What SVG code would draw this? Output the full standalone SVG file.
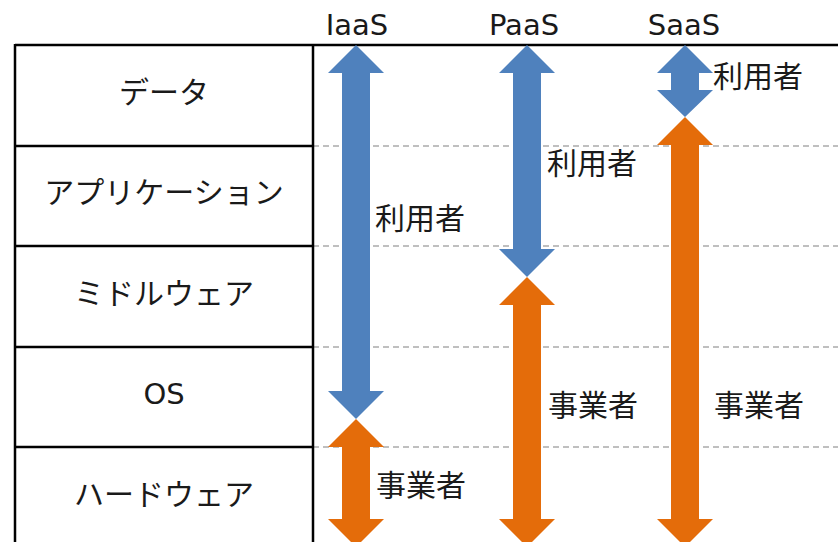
<svg xmlns="http://www.w3.org/2000/svg" width="838" height="542" viewBox="0 0 838 542">
<style>
.jp{font-family:"Noto Sans CJK JP","DejaVu Sans",sans-serif;font-size:30px;fill:#1a1a1a}
.lat{font-family:"DejaVu Sans","Noto Sans",sans-serif;font-size:29px;fill:#1a1a1a}
.row{stroke:#000;stroke-width:2.5;fill:none}
.dash{stroke:#BFBFBF;stroke-width:2;stroke-dasharray:6 4;fill:none}
.blue{fill:#4F81BD}
.orange{fill:#E46C0A}
</style>
<rect width="838" height="542" fill="#fff"/>
<g id="grid">
<line class="dash" x1="313" y1="146" x2="838" y2="146"/>
<line class="dash" x1="313" y1="246" x2="838" y2="246"/>
<line class="dash" x1="313" y1="347" x2="838" y2="347"/>
<line class="dash" x1="313" y1="447" x2="838" y2="447"/>
<line class="row" x1="15" y1="45" x2="838" y2="45"/>
<line class="row" x1="15" y1="146" x2="313" y2="146"/>
<line class="row" x1="15" y1="246" x2="313" y2="246"/>
<line class="row" x1="15" y1="347" x2="313" y2="347"/>
<line class="row" x1="15" y1="447" x2="313" y2="447"/>
<line class="row" x1="15" y1="44" x2="15" y2="542"/>
<line class="row" x1="313" y1="44" x2="313" y2="542"/>
</g>
<g id="headers">
<text class="lat" x="357" y="35" text-anchor="middle">IaaS</text>
<text class="lat" x="524" y="35" text-anchor="middle">PaaS</text>
<text class="lat" x="684" y="35" text-anchor="middle">SaaS</text>
</g>
<g id="layer-data"><text class="jp" x="164" y="103" text-anchor="middle">データ</text></g>
<g id="layer-app"><text class="jp" x="164" y="203" text-anchor="middle">アプリケーション</text></g>
<g id="layer-middleware"><text class="jp" x="164" y="304" text-anchor="middle">ミドルウェア</text></g>
<g id="layer-os"><text class="lat" x="164" y="404" text-anchor="middle">OS</text></g>
<g id="layer-hardware"><text class="jp" x="164" y="505" text-anchor="middle">ハードウェア</text></g>
<g id="connectors">
<g id="iaas-user">
<path class="blue" d="M356,45 L384,73 L370,73 L370,391 L384,391 L356,419 L328,391 L342,391 L342,73 L328,73 Z"/>
<text class="jp" x="375" y="229">利用者</text>
</g>
<g id="iaas-provider">
<path class="orange" d="M356,419 L384,447 L370,447 L370,519 L384,519 L356,547 L328,519 L342,519 L342,447 L328,447 Z"/>
<text class="jp" x="376" y="496">事業者</text>
</g>
<g id="paas-user">
<path class="blue" d="M527,45 L555,73 L541,73 L541,249 L555,249 L527,277 L499,249 L513,249 L513,73 L499,73 Z"/>
<text class="jp" x="547" y="174">利用者</text>
</g>
<g id="paas-provider">
<path class="orange" d="M527,277 L555,305 L541,305 L541,519 L555,519 L527,547 L499,519 L513,519 L513,305 L499,305 Z"/>
<text class="jp" x="548" y="416">事業者</text>
</g>
<g id="saas-user">
<path class="blue" d="M685,45 L713,73 L699,73 L699,90 L713,90 L685,117 L657,90 L671,90 L671,73 L657,73 Z"/>
<text class="jp" x="713" y="87">利用者</text>
</g>
<g id="saas-provider">
<path class="orange" d="M685,117 L713,145 L699,145 L699,519 L713,519 L685,547 L657,519 L671,519 L671,145 L657,145 Z"/>
<text class="jp" x="714" y="416">事業者</text>
</g>
</g>
</svg>
